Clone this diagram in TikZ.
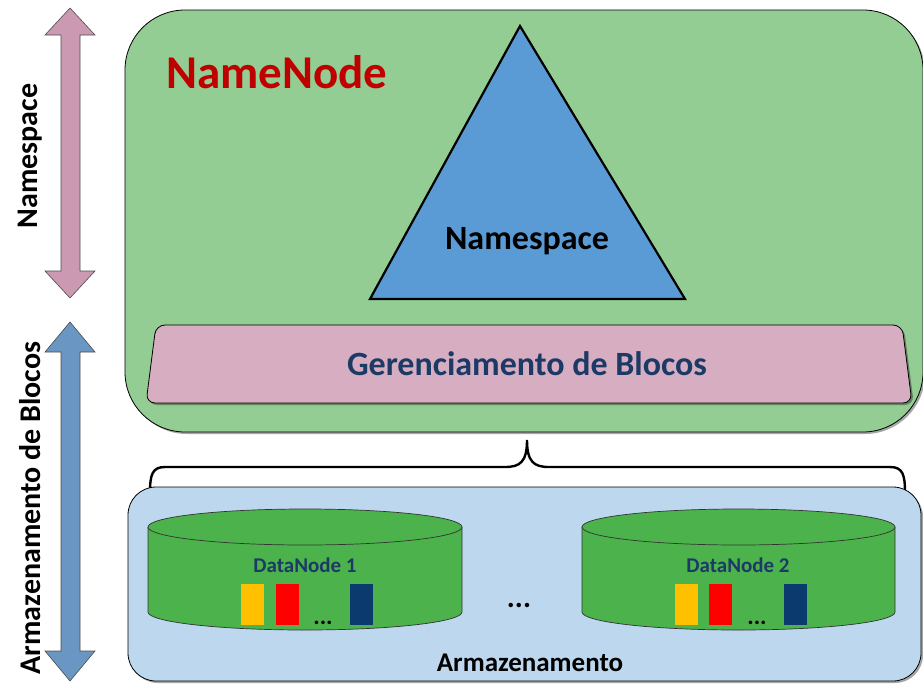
\documentclass[tikz,border=0pt]{standalone}
\usepackage{fontspec}
\setmainfont{Carlito}
\usetikzlibrary{shadows}
\definecolor{nngreen}{HTML}{93CD93}
\definecolor{nnred}{HTML}{C00000}
\definecolor{triblue}{HTML}{5B9BD5}
\definecolor{mgmtpink}{HTML}{D7ADC2}
\definecolor{darkblue}{HTML}{1B3A66}
\definecolor{storeblue}{HTML}{BDD7EE}
\definecolor{dngreen}{HTML}{4CB24C}
\definecolor{blkyellow}{HTML}{FFC000}
\definecolor{blkred}{HTML}{FF0000}
\definecolor{blknavy}{HTML}{0B3A6E}
\definecolor{arrpink}{HTML}{CC99B2}
\definecolor{arrblue}{HTML}{6A96C3}
\tikzset{
  panel/.style={draw=black, line width=0.8pt},
  softshadow/.style={drop shadow={shadow xshift=2pt, shadow yshift=-2pt, opacity=0.35, fill=black}},
  lbl/.style={font=\bfseries, inner sep=0pt},
  cyl/.style={draw=black!80, line width=0.7pt, fill=dngreen},
  sidearrow/.style={draw=black!70, line width=0.6pt},
}
\begin{document}
\begin{tikzpicture}[x=1pt,y=-1pt]
\useasboundingbox (0,0) rectangle (923,683);

% side arrows
\draw[sidearrow, fill=arrpink]
  (70,8) -- (95,35) -- (80,35) -- (80,271) -- (95,271) -- (70,298)
  -- (45,271) -- (61,271) -- (61,35) -- (45,35) -- cycle;
\draw[sidearrow, fill=arrblue]
  (70,322) -- (95,352) -- (80,352) -- (80,651) -- (95,651) -- (70,681)
  -- (45,651) -- (61,651) -- (61,352) -- (45,352) -- cycle;
\node[lbl, rotate=90, font=\bfseries\fontsize{30}{30}\selectfont] (lns) at (30,156) {Namespace};
\node[lbl, rotate=90, font=\bfseries\fontsize{30}{30}\selectfont] (lab) at (30,508) {Armazenamento de Blocos};

% NameNode panel
\draw[panel, fill=nngreen, rounded corners=60, softshadow] (125,10) rectangle (923,432);
\node[lbl, text=nnred, font=\bfseries\fontsize{47}{47}\selectfont, anchor=west] (nn) at (166,72) {NameNode};

% namespace triangle
\draw[line width=2.2pt, fill=triblue, line join=miter] (520,26) -- (685,299) -- (370,299) -- cycle;
\node[lbl, font=\bfseries\fontsize{34}{34}\selectfont] (ns) at (527,241) {Namespace};

% block management band
\draw[panel, fill=mgmtpink, rounded corners=9, softshadow] (156,325) -- (902,325) -- (912,403) -- (146,403) -- cycle;
\node[lbl, text=darkblue, font=\bfseries\fontsize{34}{34}\selectfont] (gb) at (527,364) {Gerenciamento de Blocos};

% brace
\coordinate (bl) at (150,493);
\coordinate (br) at (905,493);
\coordinate (bt) at (527,440);
\draw[line width=2.4pt, line cap=round]
  (bl) .. controls (150,475) and (152,467) .. (165,467) -- (505,467)
  .. controls (520,467) and (527,462) .. (bt)
  .. controls (527,462) and (534,467) .. (549,467) -- (890,467)
  .. controls (903,467) and (905,475) .. (br);

% storage panel
\draw[panel, fill=storeblue, rounded corners=28, softshadow] (128,487) rectangle (921,681);

% DataNode 1
\fill[dngreen] (148,527) -- (148,612) arc[start angle=180, end angle=360, x radius=157, y radius=-18] -- (462,527) -- cycle;
\draw[cyl, fill=none] (148,527) -- (148,612) arc[start angle=180, end angle=360, x radius=157, y radius=-18] -- (462,527);
\draw[cyl] (305,527) ellipse[x radius=157, y radius=18];
\node[lbl, text=darkblue, font=\bfseries\fontsize{21}{21}\selectfont] (dn1) at (305,565) {DataNode 1};
\fill[blkyellow] (241,584) rectangle (264,625);
\fill[blkred] (276,584) rectangle (299,625);
\fill[blknavy] (350,584) rectangle (373,625);
\node[lbl, font=\bfseries\fontsize{24}{24}\selectfont, anchor=base] (d1) at (323,624) {...};

% DataNode 2
\fill[dngreen] (582,527) -- (582,612) arc[start angle=180, end angle=360, x radius=156.5, y radius=-18] -- (895,527) -- cycle;
\draw[cyl, fill=none] (582,527) -- (582,612) arc[start angle=180, end angle=360, x radius=156.5, y radius=-18] -- (895,527);
\draw[cyl] (738.5,527) ellipse[x radius=156.5, y radius=18];
\node[lbl, text=darkblue, font=\bfseries\fontsize{21}{21}\selectfont] (dn2) at (738,565) {DataNode 2};
\fill[blkyellow] (675,584) rectangle (698,625);
\fill[blkred] (709,584) rectangle (732,625);
\fill[blknavy] (784,584) rectangle (807,625);
\node[lbl, font=\bfseries\fontsize{24}{24}\selectfont, anchor=base] (d2) at (757,624) {...};

\node[lbl, font=\bfseries\fontsize{30}{30}\selectfont, anchor=base] (dm) at (519,607) {...};
\node[lbl, font=\bfseries\fontsize{27}{27}\selectfont] (arm) at (530,663) {Armazenamento};
\end{tikzpicture}
\end{document}
